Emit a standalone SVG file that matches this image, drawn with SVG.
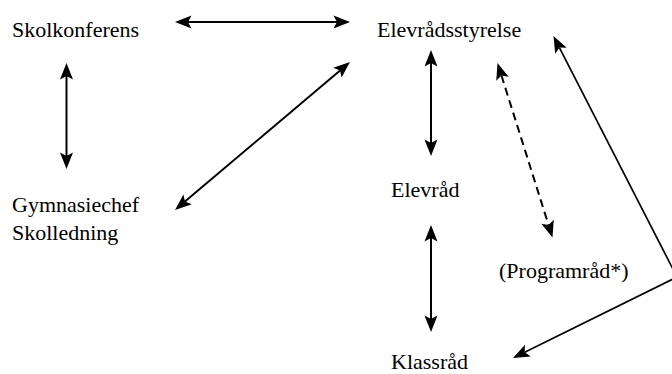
<svg xmlns="http://www.w3.org/2000/svg" width="672" height="374" viewBox="0 0 672 374">
<style>
text{font-family:"Liberation Serif","Times New Roman",serif;font-size:22px;fill:#000}
.c{fill:none;stroke:#000;stroke-width:2;marker-start:url(#ah);marker-end:url(#ah)}
.d{stroke-dasharray:8 5}
.t{stroke-width:1.7}
</style>
<defs>
<marker id="ah" viewBox="-1 -8 19 16" refX="3.5" refY="0" markerWidth="19" markerHeight="16" markerUnits="userSpaceOnUse" orient="auto-start-reverse">
<path d="M16.5,0 L0,-6.5 L3.5,0 L0,6.5 Z" fill="#000"/>
</marker>
</defs>
<rect width="672" height="374" fill="#fff"/>
<g id="connectors">
<line class="c" x1="188" y1="22" x2="337" y2="22"/>
<line class="c" x1="66.5" y1="76" x2="66.5" y2="156"/>
<line class="c" x1="340.07" y1="70.39" x2="184.93" y2="201.61"/>
<line class="c" x1="431" y1="63" x2="431" y2="143"/>
<line class="c d" x1="501.41" y1="75.40" x2="548.59" y2="225.10"/>
<line class="c" x1="431" y1="238" x2="431" y2="319"/>
<polyline class="c t" points="559.4,47.6 677,277 524.7,352.2"/>
</g>
<g id="skolkonferens"><text x="12" y="37">Skolkonferens</text></g>
<g id="elevradsstyrelse"><text x="377" y="37">Elevrådsstyrelse</text></g>
<g id="gymnasiechef"><text x="12" y="212">Gymnasiechef</text><text x="12" y="240">Skolledning</text></g>
<g id="elevrad"><text x="391" y="197">Elevråd</text></g>
<g id="programrad"><text x="499" y="278">(Programråd*)</text></g>
<g id="klassrad"><text x="391" y="369">Klassråd</text></g>
</svg>
